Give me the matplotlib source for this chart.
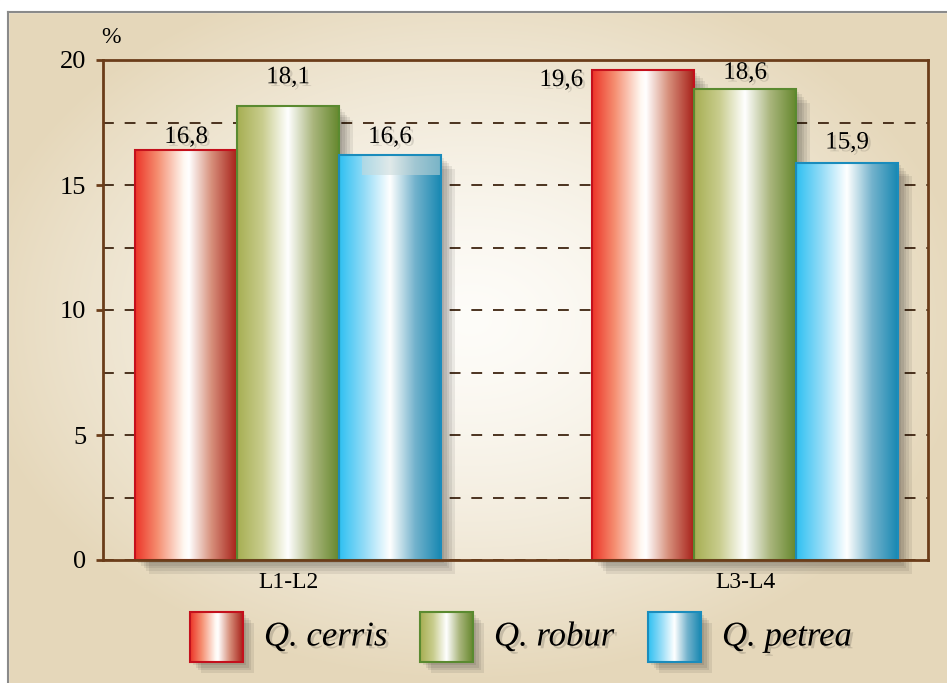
import numpy as np
import matplotlib
matplotlib.use("Agg")
import matplotlib.pyplot as plt
from matplotlib.colors import LinearSegmentedColormap
from matplotlib.patches import Rectangle
import matplotlib.patheffects as pe

# data
groups = ["L1-L2", "L3-L4"]
species = ["Q. cerris", "Q. robur", "Q. petrea"]
# bar heights as drawn in the picture
heights = [[16.4, 18.15, 16.2],
           [19.6, 18.85, 15.9]]
# value labels as printed
labels = [["16,8", "18,1", "16,6"],
          ["19,6", "18,6", "15,9"]]

W, H = 947, 683
fig = plt.figure(figsize=(W / 100, H / 100), dpi=100)

# background (pixel coords)
bg = fig.add_axes([0, 0, 1, 1])
bg.set_xlim(0, W)
bg.set_ylim(H, 0)
bg.axis("off")
yy, xx = np.mgrid[0:H, 0:W]
r = np.sqrt(((xx - 470) / 500.0) ** 2 + ((yy - 320) / 360.0) ** 2)
t = np.clip(r, 0, 1) ** 1.4
c_in = np.array([0.995, 0.99, 0.975])
c_out = np.array([0.9, 0.845, 0.73])
img = c_in[None, None, :] * (1 - t[..., None]) + c_out[None, None, :] * t[..., None]
bg.imshow(img, extent=(0, W, H, 0), aspect="auto", zorder=0)
bg.add_patch(Rectangle((0, 0), W, 12, color="white", zorder=1))
bg.add_patch(Rectangle((0, 0), 8, H, color="white", zorder=1))
bg.plot([8, W], [12, 12], color="#8a8a8a", lw=1.5, zorder=2)
bg.plot([8, 8], [12, H], color="#8a8a8a", lw=1.5, zorder=2)

cmaps = [
    LinearSegmentedColormap.from_list("red", [(0, "#ec3428"), (0.22, "#f58e70"), (0.48, "#fff8f2"),
                                              (0.53, "#ffffff"), (0.75, "#d7907c"), (1, "#a8221a")]),
    LinearSegmentedColormap.from_list("green", [(0, "#a6ae52"), (0.25, "#c9cd8e"), (0.5, "#ffffff"),
                                                (0.75, "#a9b57c"), (1, "#66882e")]),
    LinearSegmentedColormap.from_list("blue", [(0, "#2ec0f2"), (0.25, "#94dcf7"), (0.5, "#ffffff"),
                                               (0.75, "#72b2cc"), (1, "#1888b2")]),
]
edges = ["#c4101c", "#5a8a30", "#1a8cbc"]
grad = np.linspace(0, 1, 256)[None, :]

ax = fig.add_axes([103 / W, (H - 560) / H, 825 / W, 500 / H])
ax.patch.set_alpha(0)
width = 0.223
x = np.arange(len(groups))
offsets = [(1, 13), (0, 29), (1, 18)], [(-2.3, -10), (0, 16), (0, 20)]

for g in range(len(groups)):
    for s in range(len(species)):
        x0 = x[g] + (s - 1) * width - width / 2
        h = heights[g][s]
        # soft shadow
        sh = Rectangle((x0, 0), width, h, facecolor="k", edgecolor="none", zorder=1.5, clip_on=False)
        sh.set_path_effects([pe.SimplePatchShadow(offset=(o, -o), shadow_rgbFace="k", alpha=0.07)
                             for o in (2, 4, 6, 8, 10)])
        ax.add_patch(sh)
        ax.imshow(grad, cmap=cmaps[s], extent=(x0, x0 + width, 0, h), aspect="auto",
                  zorder=2, interpolation="bilinear")
        ax.add_patch(Rectangle((x0, 0), width, h, facecolor="none", edgecolor=edges[s],
                               lw=1.5, zorder=3))
        dx, dy = offsets[g][s]
        ha = "center"
        tx = x0 + width / 2
        if dx < 0:
            tx = x0 - 0.02
            ha = "right"
        ax.annotate(labels[g][s], (tx, h), xytext=(0, dy * 0.72), textcoords="offset points",
                    ha=ha, va="center", fontsize=18, family="Liberation Serif", zorder=5,
                    path_effects=[pe.withSimplePatchShadow(offset=(2, -2), alpha=0.12)])

# odd light block on the first blue bar
ax.add_patch(Rectangle((x[0] + width - width / 2 + 0.05, 15.4), width - 0.05, 0.8,
                       facecolor="#c8d8d8", alpha=0.55, edgecolor="none", zorder=2.5))

ax.set_xlim(-0.405, 1.40)
ax.set_ylim(0, 20)
ax.set_yticks([0, 5, 10, 15, 20])
ax.set_yticks(np.arange(2.5, 20, 2.5), minor=True)
ax.yaxis.grid(True, which="both", color="#3e2410", ls=(0, (6, 6)), lw=1.3, zorder=1)
ax.set_axisbelow(True)
ax.tick_params(axis="y", which="major", length=5, width=2, color="#6b3d1a", pad=7,
               labelsize=19)
ax.tick_params(axis="y", which="minor", length=0)
ax.set_xticks(x)
ax.set_xticklabels(groups)
ax.tick_params(axis="x", length=0, pad=9, labelsize=17)
for lab in ax.get_xticklabels() + ax.get_yticklabels():
    lab.set_family("Liberation Serif")
for sp in ax.spines.values():
    sp.set_color("#6b3d1a")
    sp.set_linewidth(2)
    sp.set_zorder(4)
ax.text(0.01, 1.045, "%", transform=ax.transAxes, ha="center", va="center",
        fontsize=17, family="Liberation Serif")

# legend drawn by hand
leg_x = [190, 420, 648]
for s in range(len(species)):
    lx = leg_x[s]
    sh = Rectangle((lx, 612), 53, 50, facecolor="k", edgecolor="none", zorder=2)
    sh.set_path_effects([pe.SimplePatchShadow(offset=(o, -o), shadow_rgbFace="k", alpha=0.08)
                         for o in (2, 4, 6, 8)])
    bg.add_patch(sh)
    bg.imshow(grad, cmap=cmaps[s], extent=(lx, lx + 53, 662, 612), aspect="auto",
              zorder=3, interpolation="bilinear")
    bg.add_patch(Rectangle((lx, 612), 53, 50, facecolor="none", edgecolor=edges[s], lw=1.5, zorder=4))
    bg.text(lx + 74, 637, species[s], ha="left", va="center", fontsize=25, style="italic",
            family="Liberation Serif", zorder=4,
            path_effects=[pe.withSimplePatchShadow(offset=(2, -2), alpha=0.15)])
bg.set_xlim(0, W)
bg.set_ylim(H, 0)

fig.savefig("out.png", dpi=100)
